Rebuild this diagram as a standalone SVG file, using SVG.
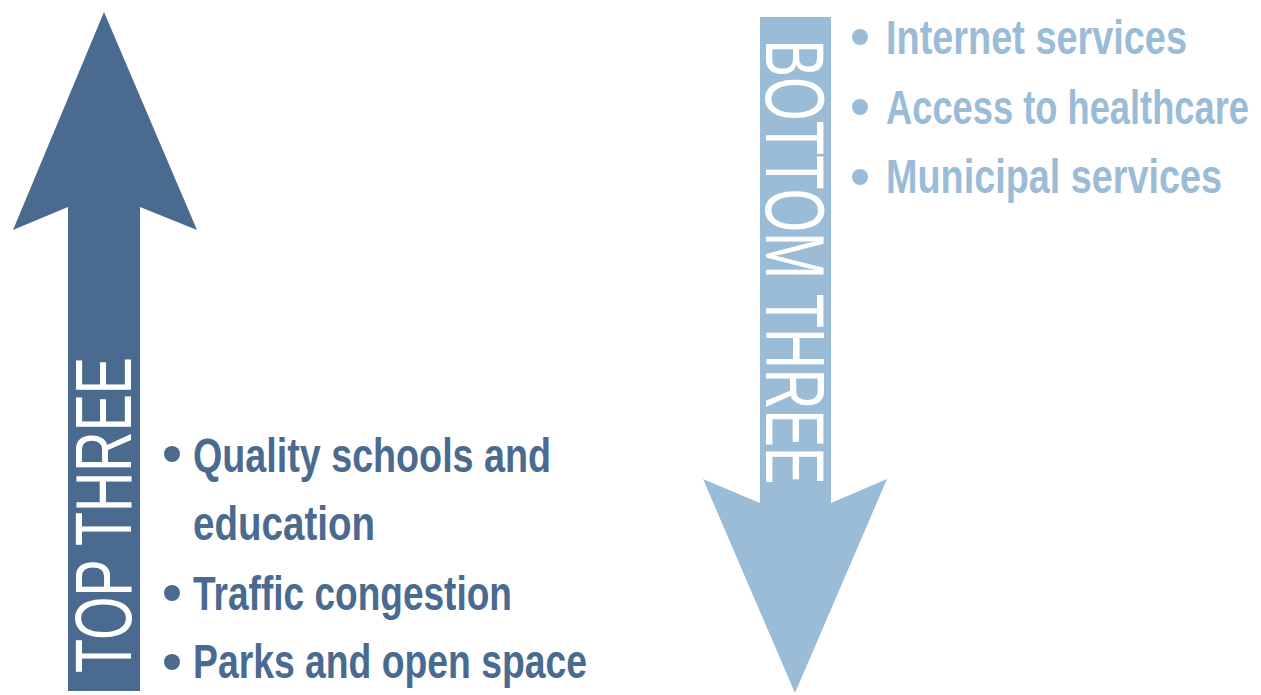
<svg xmlns="http://www.w3.org/2000/svg" width="1261" height="695" viewBox="0 0 1261 695">
<style>
.dark{fill:#4A6B8F}
.light{fill:#9ABCD7}
.lbl{font-family:"Liberation Sans",Arial,sans-serif;font-size:80px;fill:#ffffff}
.item{font-family:"Liberation Sans",Arial,sans-serif;font-size:48px;font-weight:bold}
.td{fill:#4A6B8F}
.tl{fill:#9ABCD7}
</style>
<rect width="1261" height="695" fill="#ffffff"/>
<g id="top-arrow">
<polygon class="dark" points="104,12 197,230 140,207 140,691 68,691 68,207 13,230"/>
<text class="lbl" transform="translate(131,515) rotate(-90)" text-anchor="middle" textLength="316" lengthAdjust="spacingAndGlyphs">TOP THREE</text>
</g>
<g id="top-list">
<circle class="td" cx="172" cy="454" r="8"/>
<text class="item td" x="193" y="472" textLength="358" lengthAdjust="spacingAndGlyphs">Quality schools and</text>
<text class="item td" x="193" y="540" textLength="182" lengthAdjust="spacingAndGlyphs">education</text>
<circle class="td" cx="172" cy="593" r="8"/>
<text class="item td" x="193" y="610" textLength="319" lengthAdjust="spacingAndGlyphs">Traffic congestion</text>
<circle class="td" cx="172" cy="662" r="8"/>
<text class="item td" x="193" y="678" textLength="394" lengthAdjust="spacingAndGlyphs">Parks and open space</text>
</g>
<g id="bottom-arrow">
<polygon class="light" points="760,17 831,17 831,503 887,479 795,693 703,479 760,503"/>
<text class="lbl" transform="translate(766,262) rotate(90)" text-anchor="middle" textLength="445" lengthAdjust="spacingAndGlyphs" style="font-size:84px">BOTTOM THREE</text>
</g>
<g id="bottom-list">
<circle class="tl" cx="860" cy="37" r="8"/>
<text class="item tl" x="886" y="54" textLength="301" lengthAdjust="spacingAndGlyphs">Internet services</text>
<circle class="tl" cx="860" cy="107" r="8"/>
<text class="item tl" x="886" y="124" textLength="363" lengthAdjust="spacingAndGlyphs">Access to healthcare</text>
<circle class="tl" cx="860" cy="177" r="8"/>
<text class="item tl" x="886" y="193" textLength="336" lengthAdjust="spacingAndGlyphs">Municipal services</text>
</g>
<g id="connectors"></g>
</svg>
